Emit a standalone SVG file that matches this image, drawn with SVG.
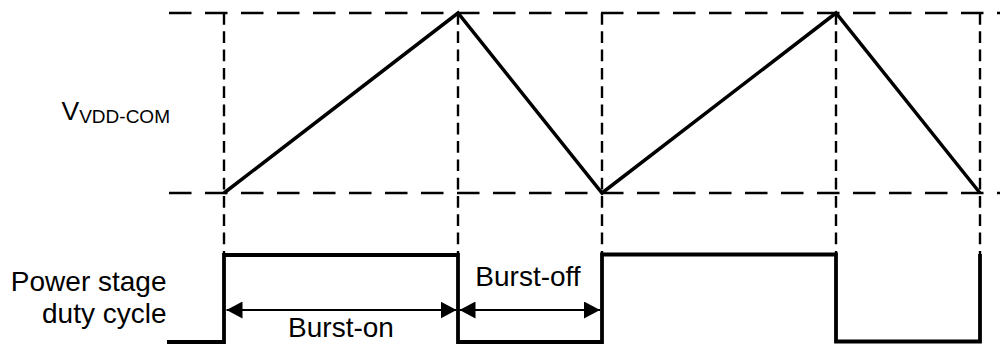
<svg xmlns="http://www.w3.org/2000/svg" width="1000" height="345" viewBox="0 0 1000 345">
<style>
.hd{fill:none;stroke:#000;stroke-width:2.6;stroke-dasharray:22.5 13.5}
.vd{fill:none;stroke:#000;stroke-width:2.4;stroke-dasharray:11.7 6.6}
.wave{fill:none;stroke:#000;stroke-width:3.5;stroke-linejoin:miter}
.pulse{fill:none;stroke:#000;stroke-width:3.8;stroke-linejoin:miter}
.dim{fill:none;stroke:#000;stroke-width:2;marker-start:url(#ah);marker-end:url(#ah)}
text{font-family:"Liberation Sans",Arial,sans-serif;fill:#000}
.lbl{font-size:28px}
</style>
<defs>
<marker id="ah" viewBox="0 0 16 17" refX="16" refY="8.5" markerWidth="16" markerHeight="17" markerUnits="userSpaceOnUse" orient="auto-start-reverse">
<path d="M0,0 L16,8.5 L0,17 z" fill="#000"/>
</marker>
</defs>
<g id="grid">
<line class="hd" x1="169" y1="13" x2="1000" y2="13"/>
<line class="hd" x1="169" y1="193" x2="1000" y2="193"/>
<line class="vd" x1="224" y1="13" x2="224" y2="255"/>
<line class="vd" x1="458" y1="13" x2="458" y2="255"/>
<line class="vd" x1="602" y1="13" x2="602" y2="254"/>
<line class="vd" x1="836" y1="13" x2="836" y2="254"/>
<line class="vd" x1="980" y1="13" x2="980" y2="254"/>
</g>
<g id="vdd-wave">
<polyline class="wave" points="224,193 458,13 602,193 836,13 980,193"/>
</g>
<g id="duty-wave">
<path class="pulse" d="M167,342 H224 V255 H458 V342 H602 V254.5 H836 V341.5 H980 V254"/>
</g>
<g id="connectors">
<line class="dim" x1="226.5" y1="310" x2="456.5" y2="310"/>
<line class="dim" x1="459.5" y1="310" x2="600" y2="310"/>
</g>
<g id="label-vdd">
<text x="61.5" y="119.5" font-size="26.5">V<tspan font-size="19" dy="3.5">VDD-COM</tspan></text>
</g>
<g id="label-duty">
<text class="lbl" x="166.5" y="291" text-anchor="end">Power stage</text>
<text class="lbl" x="166.5" y="323" text-anchor="end">duty cycle</text>
</g>
<g id="label-burst-on">
<text class="lbl" x="341" y="336.5" text-anchor="middle">Burst-on</text>
</g>
<g id="label-burst-off">
<text class="lbl" x="528" y="286" text-anchor="middle">Burst-off</text>
</g>
</svg>
